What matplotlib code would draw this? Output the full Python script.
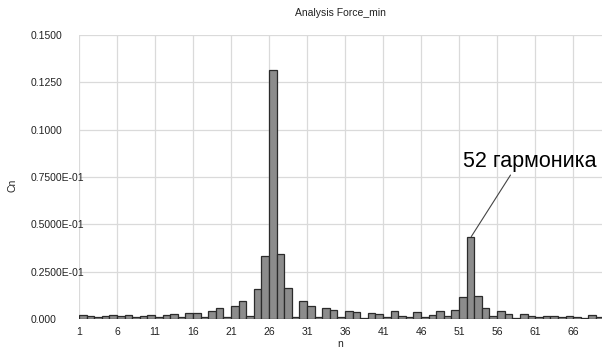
import numpy as np
import matplotlib
matplotlib.use('Agg')
import matplotlib.pyplot as plt

plt.rcParams['font.family'] = ['Liberation Sans', 'DejaVu Sans']

harmonics = np.arange(1, 70)
cn = [0.0021, 0.0014, 0.0009, 0.0016, 0.0023, 0.0017, 0.0023, 0.0012, 0.0018, 0.0023,
      0.0013, 0.0023, 0.0027, 0.0008, 0.0031, 0.0031, 0.0012, 0.0040, 0.0057, 0.0013,
      0.0070, 0.0093, 0.0016, 0.0160, 0.0334, 0.1314, 0.0343, 0.0165, 0.0013, 0.0097,
      0.0070, 0.0009, 0.0059, 0.0048, 0.0009, 0.0041, 0.0036, 0.0005, 0.0032, 0.0027,
      0.0008, 0.0041, 0.0018, 0.0011, 0.0036, 0.0011, 0.0022, 0.0041, 0.0014, 0.0050,
      0.0116, 0.0435, 0.0120, 0.0057, 0.0016, 0.0040, 0.0025, 0.0007, 0.0026, 0.0016,
      0.0011, 0.0016, 0.0016, 0.0011, 0.0016, 0.0011, 0.0007, 0.0023, 0.0011]

x_ticks = [1, 6, 11, 16, 21, 26, 31, 36, 41, 46, 51, 56, 61, 66]
y_ticks = [0.0, 0.025, 0.05, 0.075, 0.1, 0.125, 0.15]
y_labels = ['0.000', '0.2500E-01', '0.5000E-01', '0.7500E-01', '0.1000', '0.1250', '0.1500']

fig = plt.figure(figsize=(6.02, 3.5), dpi=100)
ax = fig.add_axes([79 / 602, 1 - 319 / 350, 523 / 602, 284 / 350])

ax.bar(harmonics, cn, width=1, align='edge', color='#8c8c8c',
       edgecolor='#2b2b2b', linewidth=0.9, zorder=3)

ax.set_xlim(1, 69.8)
ax.set_ylim(0, 0.15)
ax.set_xticks(x_ticks)
ax.set_yticks(y_ticks)
ax.set_yticklabels(y_labels, ha='left')
ax.tick_params(axis='y', length=0, pad=35, labelsize=7.5, colors='#222222')
ax.tick_params(axis='x', length=0, pad=6, labelsize=7.5, colors='#222222')
ax.grid(True, color='#dadada', linewidth=0.9, zorder=0)
for s in ax.spines.values():
    s.set_visible(False)

ax.set_title('Analysis Force_min', fontsize=7.5, pad=14, color='#222222')
ax.set_xlabel('n', fontsize=7.5, labelpad=1, color='#222222')
fig.text(12 / 602, 1 - 185 / 350, 'Cn', rotation=90, fontsize=7.5,
         va='center', ha='center', color='#222222')

ax.annotate('52 гармоника', xy=(52.6, cn[51]), xytext=(51.5, 0.0775),
            fontsize=15.5, ha='left', va='bottom',
            arrowprops=dict(arrowstyle='-', color='#444444', lw=0.8,
                            shrinkA=0, shrinkB=0, relpos=(0.38, 0.1)))

fig.savefig('out.png', dpi=100)
